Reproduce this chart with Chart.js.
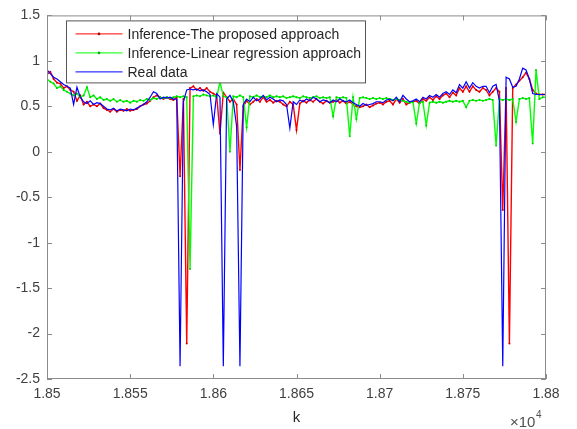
<!DOCTYPE html>
<html><head><meta charset="utf-8">
<script src="https://cdn.jsdelivr.net/npm/chart.js@4.4.0/dist/chart.umd.min.js"></script>
<style>html,body{margin:0;padding:0;background:#fff;}canvas{display:block;}</style>
</head><body>
<canvas id="c" width="577" height="429"></canvas>
<script>
const K = [
18500,18502,18504,18506,18508,18510,18512,18514,18516,18518,
18520,18522,18524,18526,18528,18530,18532,18534,18536,18538,
18540,18542,18544,18546,18548,18550,18552,18554,18556,18558,
18560,18562,18564,18566,18568,18570,18572,18574,18576,18578,
18580,18582,18584,18586,18588,18590,18592,18594,18596,18598,
18600,18602,18604,18606,18608,18610,18612,18614,18616,18618,
18620,18622,18624,18626,18628,18630,18632,18634,18636,18638,
18640,18642,18644,18646,18648,18650,18652,18654,18656,18658,
18660,18662,18664,18666,18668,18670,18672,18674,18676,18678,
18680,18682,18684,18686,18688,18690,18692,18694,18696,18698,
18700,18702,18704,18706,18708,18710,18712,18714,18716,18718,
18720,18722,18724,18726,18728,18730,18732,18734,18736,18738,
18740,18742,18744,18746,18748,18750,18752,18754,18756,18758,
18760,18762,18764,18766,18768,18770,18772,18774,18776,18778,
18780,18782,18784,18786,18788,18790,18792,18794,18796,18798,
18800];

const PROPOSED = [
0.85,0.88,0.80,0.76,0.75,0.70,0.72,0.68,0.66,0.56,
0.62,0.52,0.55,0.50,0.52,0.50,0.53,0.48,0.46,0.44,
0.47,0.44,0.46,0.45,0.47,0.45,0.46,0.47,0.50,0.52,
0.53,0.56,0.60,0.62,0.60,0.58,0.60,0.58,0.57,0.60,
-0.27,0.58,-2.11,0.70,0.72,0.68,0.70,0.67,0.70,0.66,
0.64,0.62,0.20,0.65,0.60,0.55,0.58,0.52,-0.20,0.50,
0.56,0.52,0.55,0.58,0.55,0.60,0.55,0.57,0.54,0.56,
0.55,0.52,0.50,0.55,0.52,0.24,0.53,0.56,0.54,0.57,
0.55,0.58,0.55,0.53,0.56,0.54,0.55,0.57,0.54,0.56,
0.53,0.55,0.52,0.50,0.49,0.50,0.52,0.49,0.51,0.53,
0.54,0.52,0.55,0.56,0.52,0.58,0.54,0.58,0.52,0.54,
0.55,0.56,0.53,0.58,0.56,0.60,0.57,0.61,0.58,0.62,
0.64,0.60,0.65,0.62,0.70,0.66,0.72,0.66,0.72,0.68,
0.66,0.70,0.68,0.62,0.66,0.70,0.66,-0.64,0.70,-2.11,
0.70,0.74,0.78,0.82,0.87,0.80,0.68,0.64,0.63,0.63,
0.63];

const LINEAR = [
0.80,0.77,0.75,0.70,0.72,0.68,0.66,0.64,0.62,0.64,
0.60,0.62,0.71,0.60,0.62,0.58,0.60,0.57,0.58,0.56,
0.58,0.55,0.57,0.55,0.56,0.54,0.56,0.55,0.57,0.56,
0.58,0.57,0.59,0.58,0.60,0.59,0.60,0.59,0.60,0.61,
0.60,0.61,0.60,-1.29,0.61,0.62,0.61,0.63,0.62,0.61,
0.62,0.60,0.77,0.61,0.60,0.00,0.61,0.60,0.62,0.60,
0.27,0.61,0.60,0.62,0.60,0.61,0.60,0.62,0.60,0.61,
0.60,0.61,0.59,0.60,0.61,0.60,0.59,0.61,0.60,0.59,
0.60,0.61,0.59,0.60,0.59,0.60,0.39,0.60,0.59,0.60,
0.59,0.17,0.60,0.36,0.59,0.60,0.59,0.58,0.59,0.58,
0.59,0.58,0.59,0.58,0.57,0.58,0.57,0.56,0.55,0.54,
0.55,0.31,0.54,0.55,0.29,0.54,0.55,0.54,0.55,0.54,
0.55,0.56,0.55,0.56,0.55,0.56,0.49,0.56,0.57,0.56,
0.57,0.56,0.57,0.58,0.57,0.07,0.58,0.57,0.58,0.57,
0.58,0.33,0.58,0.59,0.58,0.59,0.09,0.90,0.58,0.60,
0.60];

const REAL = [
0.90,0.86,0.82,0.80,0.77,0.74,0.72,0.70,0.52,0.71,
0.60,0.55,0.53,0.56,0.52,0.54,0.53,0.50,0.47,0.46,
0.48,0.45,0.47,0.46,0.45,0.47,0.46,0.48,0.50,0.52,
0.55,0.60,0.66,0.64,0.58,0.60,0.59,0.60,0.58,0.58,
-2.36,0.55,0.68,0.69,0.68,0.69,0.67,0.68,0.66,0.63,
0.30,0.64,0.60,-2.36,0.58,0.62,0.55,0.28,-2.36,0.52,
0.58,0.55,0.60,0.56,0.58,0.62,0.57,0.60,0.58,0.55,
0.57,0.56,0.52,0.26,0.55,0.52,0.57,0.55,0.58,0.56,
0.60,0.58,0.55,0.57,0.56,0.54,0.57,0.55,0.58,0.56,
0.55,0.57,0.54,0.52,0.50,0.53,0.51,0.52,0.53,0.55,
0.55,0.54,0.57,0.58,0.56,0.60,0.55,0.62,0.58,0.55,
0.56,0.58,0.55,0.60,0.58,0.62,0.60,0.63,0.60,0.64,
0.66,0.63,0.68,0.65,0.74,0.70,0.77,0.70,0.76,0.72,
0.70,0.72,0.72,0.65,0.72,0.74,0.56,-2.36,0.82,0.80,
0.71,0.72,0.80,0.92,0.90,0.80,0.64,0.63,0.63,0.63,
0.63];

const SERIES_NAMES = ['Inference-The proposed approach', 'Inference-Linear regression approach', 'Real data'];
const SERIES_COLORS = ['#ff0000', '#00ff00', '#0000ff'];
const X_TICKS = [18500, 18550, 18600, 18650, 18700, 18750, 18800];
const X_TICK_LABELS = ['1.85', '1.855', '1.86', '1.865', '1.87', '1.875', '1.88'];
const Y_TICKS = [1.5, 1, 0.5, 0, -0.5, -1, -1.5, -2, -2.5];
const Y_TICK_LABELS = ['1.5', '1', '0.5', '0', '-0.5', '-1', '-1.5', '-2', '-2.5'];
const X_TITLE = 'k';
const X_EXPONENT = ['\u00d710', '4'];

const FONT = "'Liberation Sans', Arial, sans-serif";
Chart.defaults.font.family = FONT;

function pts(vals) { return K.map((k, i) => ({ x: k, y: vals[i] })); }

const framePlugin = {
  id: 'frame',
  afterDatasetsDraw(chart) {
    const { ctx, chartArea: a, scales: { x, y } } = chart;
    ctx.save();
    ctx.strokeStyle = '#8c8c8c';
    ctx.lineWidth = 1;
    ctx.strokeRect(a.left + 0.5, a.top + 0.5, a.right - a.left - 1, a.bottom - a.top - 1);
    ctx.beginPath();
    X_TICKS.forEach(v => {
      const px = Math.round(x.getPixelForValue(v)) + 0.5;
      ctx.moveTo(px, a.bottom); ctx.lineTo(px, a.bottom - 5);
      ctx.moveTo(px, a.top); ctx.lineTo(px, a.top + 5);
    });
    Y_TICKS.forEach(v => {
      const py = Math.round(y.getPixelForValue(v)) + 0.5;
      ctx.moveTo(a.left, py); ctx.lineTo(a.left + 5, py);
      ctx.moveTo(a.right, py); ctx.lineTo(a.right - 5, py);
    });
    ctx.stroke();

    const bx = a.left + 19.5, by = a.top + 5.5, bw = 299, bh = 62;
    ctx.fillStyle = '#ffffff';
    ctx.fillRect(bx, by, bw, bh);
    ctx.strokeStyle = '#555555';
    ctx.strokeRect(bx, by, bw, bh);
    ctx.font = '14px ' + FONT;
    ctx.textBaseline = 'middle';
    ctx.textAlign = 'left';
    SERIES_NAMES.forEach((name, i) => {
      const ry = by + 13 + i * 19;
      ctx.strokeStyle = SERIES_COLORS[i];
      ctx.lineWidth = 1;
      ctx.beginPath();
      ctx.moveTo(bx + 9, ry); ctx.lineTo(bx + 56, ry);
      ctx.stroke();
      if (i < 2) {
        ctx.fillStyle = i === 0 ? '#aa0000' : '#00aa00';
        ctx.beginPath(); ctx.arc(bx + 32.5, ry, 1.3, 0, Math.PI * 2); ctx.fill();
      }
      ctx.fillStyle = '#262626';
      ctx.fillText(name, bx + 61, ry + 1);
    });

    ctx.fillStyle = '#262626';
    ctx.textAlign = 'center';
    ctx.font = '15px ' + FONT;
    ctx.fillText(X_TITLE, (a.left + a.right) / 2, 418);
    ctx.fillStyle = '#505050';
    ctx.textAlign = 'left';
    ctx.font = '15px ' + FONT;
    ctx.fillText(X_EXPONENT[0], 510, 423);
    const w = ctx.measureText(X_EXPONENT[0]).width;
    ctx.font = '10px ' + FONT;
    ctx.fillText(X_EXPONENT[1], 510 + w + 0.5, 415);
    ctx.restore();
  }
};

new Chart(document.getElementById('c'), {
  type: 'line',
  data: {
    datasets: [
      { label: SERIES_NAMES[0], data: pts(PROPOSED), borderColor: SERIES_COLORS[0], backgroundColor: '#cc0000',
        borderWidth: 1.4, pointRadius: 1, pointBorderWidth: 0, pointBackgroundColor: '#cc0000', tension: 0, order: 3 },
      { label: SERIES_NAMES[1], data: pts(LINEAR), borderColor: SERIES_COLORS[1], backgroundColor: '#00cc00',
        borderWidth: 1.4, pointRadius: 1, pointBorderWidth: 0, pointBackgroundColor: '#00cc00', tension: 0, order: 2 },
      { label: SERIES_NAMES[2], data: pts(REAL), borderColor: SERIES_COLORS[2], backgroundColor: SERIES_COLORS[2],
        borderWidth: 1.2, pointRadius: 0, tension: 0, order: 1 }
    ]
  },
  options: {
    responsive: false,
    devicePixelRatio: 1,
    animation: false,
    events: [],
    layout: { padding: { top: 10, right: 31, left: 0, bottom: 0 } },
    plugins: { legend: { display: false }, tooltip: { enabled: false } },
    scales: {
      x: {
        type: 'linear', min: 18500, max: 18800,
        grid: { display: false, drawTicks: false },
        border: { display: false },
        afterBuildTicks(s) { s.ticks = X_TICKS.map(v => ({ value: v })); },
        afterFit(s) { s.height = 50; },
        ticks: {
          autoSkip: false, maxRotation: 0, padding: 7, color: '#404040',
          font: { size: 14 },
          callback: v => X_TICK_LABELS[X_TICKS.indexOf(v)]
        }
      },
      y: {
        type: 'linear', min: -2.5, max: 1.5,
        grid: { display: false, drawTicks: false },
        border: { display: false },
        afterBuildTicks(s) { s.ticks = Y_TICKS.map(v => ({ value: v })); },
        afterFit(s) { s.width = 47; },
        ticks: {
          autoSkip: false, padding: 7, color: '#404040',
          font: { size: 14 },
          callback: v => Y_TICK_LABELS[Y_TICKS.indexOf(v)]
        }
      }
    }
  },
  plugins: [framePlugin]
});
</script>
</body></html>
